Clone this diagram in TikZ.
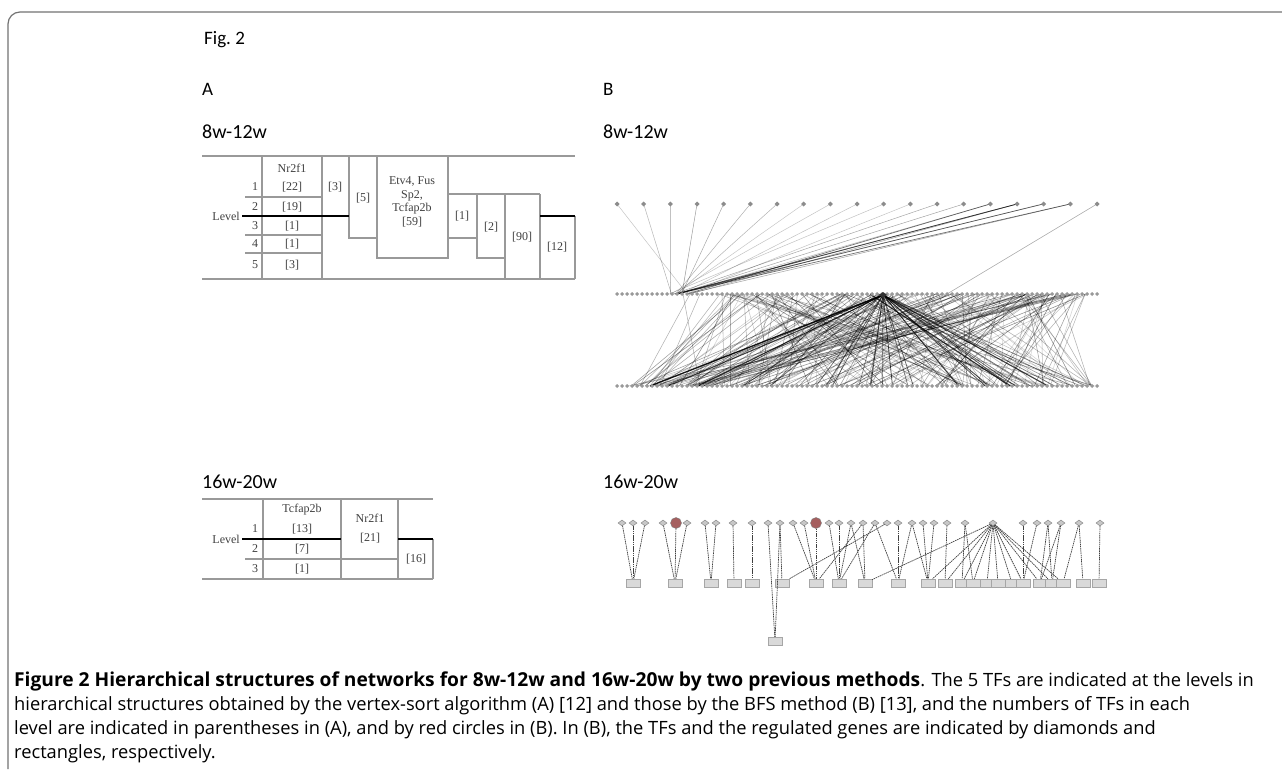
\documentclass[tikz,border=0pt]{standalone}
\usepackage{fontspec}
\setmainfont{Liberation Serif}
\newfontfamily\capfont{Open Sans}
\newfontfamily\hdfont{Carlito}
\newfontfamily\tabfont{Liberation Serif}
\usetikzlibrary{shapes.geometric}
\definecolor{tfredc}{RGB}{165,95,95}
\begin{document}
\begin{tikzpicture}[x=1pt,y=-1pt]
\tikzset{
 tl/.style={draw=black!40, line width=2.2pt},
 tk/.style={draw=black, line width=2pt},
 tx/.style={font=\tabfont\fontsize{12}{13}\selectfont, text=black!75, inner sep=0pt},
 hd/.style={font=\hdfont\fontsize{20}{24}\selectfont, inner sep=0pt, anchor=base west},
 captxt/.style={font=\capfont\fontsize{18.3}{24}\selectfont, inner sep=0pt, anchor=base west},
 framel/.style={draw=black!55, line width=1.2pt},
 netl/.style={draw=black, line width=0.55pt},
 tf/.style={diamond, draw=black!45, fill=black!22, inner sep=0pt, minimum width=8pt, minimum height=6pt, line width=0.5pt},
 tfr/.style={circle, draw=black!50, fill=tfredc, inner sep=0pt, minimum size=11pt},
 gn/.style={rectangle, draw=black!35, fill=black!15, inner sep=0pt, minimum width=14pt, minimum height=8pt, line width=0.5pt},
 ed/.style={draw=black!75, line width=0.7pt, dash pattern=on 1.5pt off 0.7pt},
}
\useasboundingbox (0,0) rectangle (1282,769);
\fill[white] (0,0) rectangle (1282,769);
% frame
\draw[framel, rounded corners=12pt] (1282,12) -- (8,12) -- (8,769);
% headings
\node[hd, font=\hdfont\fontsize{19}{22}\selectfont] (fig) at (204,44) {Fig.\ 2};
\node[hd, font=\hdfont\fontsize{19}{22}\selectfont] (la) at (202,95) {A};
\node[hd, font=\hdfont\fontsize{19}{22}\selectfont] (lb) at (603,95) {B};
\node[hd] (a1) at (202,138) {8w-12w};
\node[hd] (b1) at (603,138) {8w-12w};
\node[hd] (a2) at (202,488) {16w-20w};
\node[hd] (b2) at (603,488) {16w-20w};

% ---------- Table A, 8w-12w ----------
\draw[tl] (202,156) -- (575,156);
\draw[tl] (202,279) -- (575,279);
\draw[tl] (262,156) -- (262,279);
\draw[tl] (322,156) -- (322,279);
\draw[tl] (349,156) -- (349,238) -- (377,238);
\draw[tl] (377,156) -- (377,258) -- (448,258) -- (448,156);
\draw[tl] (448,194) -- (540,194);
\draw[tl] (448,238) -- (477,238);
\draw[tl] (477,194) -- (477,258) -- (505,258);
\draw[tl] (505,194) -- (505,279);
\draw[tl] (540,194) -- (540,279);
\draw[tl] (575,216) -- (575,279);
\draw[tl] (245,197) -- (322,197);
\draw[tl] (245,235) -- (322,235);
\draw[tl] (245,253) -- (322,253);
\draw[tk] (242,216) -- (349,216);
\draw[tk] (540,216) -- (575,216);
\node[tx, anchor=east] (lvA) at (240,216) {Level};
\node[tx] (n1) at (255,187) {1};
\node[tx] (n2) at (255,207) {2};
\node[tx] (n3) at (255,226) {3};
\node[tx] (n4) at (255,244) {4};
\node[tx] (n5) at (255,265) {5};
\node[tx] (nr) at (292,168) {Nr2f1};
\node[tx] (c22) at (292,187) {[22]};
\node[tx] (c19) at (292,207) {[19]};
\node[tx] (c1a) at (292,226) {[1]};
\node[tx] (c1b) at (292,244) {[1]};
\node[tx] (c3a) at (292,265) {[3]};
\node[tx] (c3) at (335,187) {[3]};
\node[tx] (c5) at (363,198) {[5]};
\node[tx, align=center, font=\tabfont\fontsize{12}{13.5}\selectfont] (c59) at (412,202) {Etv4, Fus\\Sp2,\\Tcfap2b\\{[59]}};
\node[tx] (c1c) at (462,216) {[1]};
\node[tx] (c2) at (491,227) {[2]};
\node[tx] (c90) at (522,237) {[90]};
\node[tx] (c12) at (557,247) {[12]};

% ---------- Table A, 16w-20w ----------
\draw[tl] (202,499) -- (433,499);
\draw[tl] (202,579) -- (433,579);
\draw[tl] (263,499) -- (263,579);
\draw[tl] (341,499) -- (341,579);
\draw[tl] (398,499) -- (398,579);
\draw[tl] (433,539) -- (433,579);
\draw[tl] (245,559) -- (398,559);
\draw[tk] (242,539) -- (341,539);
\draw[tk] (398,539) -- (433,539);
\node[tx, anchor=east] (lvB) at (240,539) {Level};
\node[tx] (m1) at (255,529) {1};
\node[tx] (m2) at (255,549) {2};
\node[tx] (m3) at (255,569) {3};
\node[tx] (d13) at (302,510) {Tcfap2b};
\node[tx] (d13b) at (302,529) {[13]};
\node[tx] (d7) at (302,549) {[7]};
\node[tx] (d1) at (302,569) {[1]};
\node[tx, align=center, font=\tabfont\fontsize{12}{19}\selectfont] (d21) at (370,529) {Nr2f1\\{[21]}};
\node[tx] (d16) at (416,559) {[16]};

% ---------- Network B, 8w-12w ----------
\pgfmathsetseed{7}
% fan from top row
\foreach \i in {0,...,17}{
  \pgfmathsetmacro{\xt}{617+26.67*\i}
  \pgfmathsetmacro{\xc}{668+22*rnd}
  \pgfmathsetmacro{\op}{0.2+0.2*rnd}
  \draw[netl, draw opacity=\op, line width=0.5pt] (\xt,204) -- (\xc,294);
}
\foreach \xt in {990,1017,1043,1070,1017}{
  \pgfmathsetmacro{\xc}{672+16*rnd}
  \draw[netl, draw opacity=0.55, line width=0.7pt] (\xt,204) -- (\xc,294);
}
\draw[netl, draw opacity=0.35] (1097,204) -- (947,294);
% dense middle-bottom
\foreach \i in {1,...,230}{
  \pgfmathsetmacro{\xa}{715+375*rnd}
  \pgfmathsetmacro{\xb}{628+467*rnd}
  \pgfmathsetmacro{\op}{0.15+0.32*rnd}
  \draw[netl, draw opacity=\op] (\xa,294) -- (\xb,386);
}
\foreach \i in {1,...,28}{
  \pgfmathsetmacro{\xb}{640+450*rnd}
  \pgfmathsetmacro{\op}{0.4+0.35*rnd}
  \draw[netl, draw opacity=\op, line width=0.7pt] (883,295) -- (\xb,386);
}
\foreach \xa/\xb in {730/730,735/640,740/655,720/650,760/645,700/660,690/640,683/700,1080/1000,1085/1040,1060/1090,990/1092,1020/1092,950/1092,1040/1092}{
  \draw[netl, draw opacity=0.3] (\xa,294) -- (\xb,386);
}
\draw[netl, line width=1.3pt, draw opacity=0.85] (883,295) -- (650,386);
\draw[netl, line width=1.1pt, draw opacity=0.75] (883,295) -- (668,386);
\draw[netl, line width=1.1pt, draw opacity=0.75] (883,295) -- (1048,386);
\draw[netl, line width=1.1pt, draw opacity=0.8] (870,294) -- (1010,386);
% node rows
\foreach \i in {0,...,18}{
  \pgfmathsetmacro{\xt}{617+26.67*\i}
  \fill[black!45] (\xt,201.5) -- (\xt+2.5,204) -- (\xt,206.5) -- (\xt-2.5,204) -- cycle;
}
\foreach \x in {617,622,...,1097}{
  \fill[black!40] (\x,292) -- (\x+2,294) -- (\x,296) -- (\x-2,294) -- cycle;
  \fill[black!40] (\x,384) -- (\x+2,386) -- (\x,388) -- (\x-2,386) -- cycle;
}
\fill[black!80] (883,292) -- (887,295) -- (883,298) -- (879,295) -- cycle;

% ---------- Network B, 16w-20w ----------
\foreach \n/\x in {1/622,2/633,3/645,4/663,6/687,7/705,8/716,9/733,10/752,11/768,12/780,13/793,14/804,16/829,17/839,18/851,19/863,20/875,21/887,22/898,23/912,24/923,25/934,26/947,27/965,28/993,29/1023,30/1037,31/1048,32/1061,33/1079,34/1100}{
  \node[tf] (t\n) at (\x,523) {};
}
\node[tfr] (t5) at (676,523) {};
\node[tfr] (t15) at (816,523) {};
\foreach \n/\x in {1/633,2/675,3/711,4/734,5/752,6/782,7/816,8/839,9/865,10/898,11/928,12/945,13/962,14/973,15/987,16/998,17/1012,18/1023,19/1040,20/1052,21/1063,22/1083,23/1099}{
  \node[gn] (g\n) at (\x,583) {};
}
\node[gn] (gl) at (775,641) {};
\foreach \a/\b in {t1/g1,t2/g1,t3/g1,t4/g2,t5/g2,t6/g2,t7/g3,t8/g3,t9/g4,t10/g5,t11/gl,t12/gl,t12/g6,t13/g7,t14/g7,t15/g7,t16/g8,t17/g8,t18/g8,t18/g9,t19/g9,t19/g7,t20/g8,t21/g6,t20/g10,t22/g10,t23/g10,t23/g11,t24/g11,t25/g11,t26/g12,t27/g13,t27/g14,t29/g18,t30/g18,t31/g19,t31/g20,t32/g19,t32/g20,t33/g21,t33/g22,t34/g23}{
  \draw[ed] (\a) -- (\b);
}
\foreach \b in {g9,g11,g12,g13,g14,g15,g16,g17,g18,g19,g20,g21}{
  \draw[ed] (t28) -- (\b);
}

% ---------- Caption ----------
\node[captxt] (cap1) at (14,686) {{\fontsize{19.2}{24}\selectfont\bfseries Figure 2 Hierarchical structures of networks for 8w-12w and 16w-20w by two previous methods}. The 5 TFs are indicated at the levels in};
\node[captxt] (cap2) at (14,710) {hierarchical structures obtained by the vertex-sort algorithm (A) [12] and those by the BFS method (B) [13], and the numbers of TFs in each};
\node[captxt] (cap3) at (14,734) {level are indicated in parentheses in (A), and by red circles in (B). In (B), the TFs and the regulated genes are indicated by diamonds and};
\node[captxt] (cap4) at (14,758) {rectangles, respectively.};
\end{tikzpicture}
\end{document}
